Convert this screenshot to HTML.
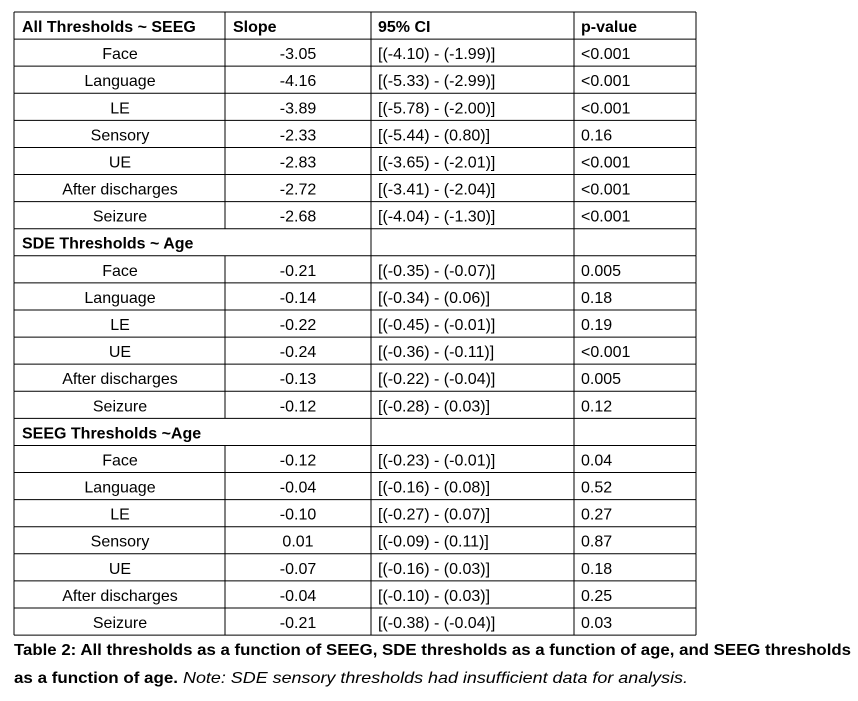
<!DOCTYPE html>
<html><head><style>html,body{margin:0;padding:0;background:#fff;}svg{display:block;}</style></head>
<body>
<svg width="858" height="701" xmlns="http://www.w3.org/2000/svg" font-family="Liberation Sans, sans-serif" font-size="16" fill="#000">
<rect width="858" height="701" fill="#fff"/>
<g id="t"></g>
<script>
<![CDATA[
(function(){
var rows=[
["All Thresholds ~ SEEG","Slope","95% CI","p-value","H"],
["Face","-3.05","[(-4.10) - (-1.99)]","<0.001"],
["Language","-4.16","[(-5.33) - (-2.99)]","<0.001"],
["LE","-3.89","[(-5.78) - (-2.00)]","<0.001"],
["Sensory","-2.33","[(-5.44) - (0.80)]","0.16"],
["UE","-2.83","[(-3.65) - (-2.01)]","<0.001"],
["After discharges","-2.72","[(-3.41) - (-2.04)]","<0.001"],
["Seizure","-2.68","[(-4.04) - (-1.30)]","<0.001"],
["SDE Thresholds ~ Age","","","","S"],
["Face","-0.21","[(-0.35) - (-0.07)]","0.005"],
["Language","-0.14","[(-0.34) - (0.06)]","0.18"],
["LE","-0.22","[(-0.45) - (-0.01)]","0.19"],
["UE","-0.24","[(-0.36) - (-0.11)]","<0.001"],
["After discharges","-0.13","[(-0.22) - (-0.04)]","0.005"],
["Seizure","-0.12","[(-0.28) - (0.03)]","0.12"],
["SEEG Thresholds ~Age","","","","S"],
["Face","-0.12","[(-0.23) - (-0.01)]","0.04"],
["Language","-0.04","[(-0.16) - (0.08)]","0.52"],
["LE","-0.10","[(-0.27) - (0.07)]","0.27"],
["Sensory","0.01","[(-0.09) - (0.11)]","0.87"],
["UE","-0.07","[(-0.16) - (0.03)]","0.18"],
["After discharges","-0.04","[(-0.10) - (0.03)]","0.25"],
["Seizure","-0.21","[(-0.38) - (-0.04)]","0.03"]];
var ns="http://www.w3.org/2000/svg",g=document.getElementById("t");
function el(n,a,txt){var e=document.createElementNS(ns,n);for(var k in a)e.setAttribute(k,a[k]);if(txt!=null)e.textContent=txt;g.appendChild(e);return e;}
var X=[14,225,371,574,696],T0=12,H=27.09;
for(var i=0;i<rows.length;i++){
 var y=T0+i*H,r=rows[i],b=y+20;
 el("line",{x1:14,x2:696,y1:y,y2:y,stroke:"#000","stroke-width":1});
 var t=r[4];
 if(t=="H"){
  el("text",{x:22,y:b,"font-weight":"bold"},r[0]);
  el("text",{x:233,y:b,"font-weight":"bold"},r[1]);
  el("text",{x:378,y:b,"font-weight":"bold"},r[2]);
  el("text",{x:581,y:b,"font-weight":"bold"},r[3]);
 }else if(t=="S"){
  el("text",{x:22,y:b,"font-weight":"bold"},r[0]);
 }else{
  el("text",{x:120,y:b,"text-anchor":"middle"},r[0]);
  el("text",{x:298,y:b,"text-anchor":"middle"},r[1]);
  el("text",{x:378,y:b},r[2]);
  el("text",{x:581,y:b},r[3]);
 }
 for(var j=0;j<5;j++){ if(t=="S"&&j==1)continue;
  el("line",{x1:X[j],x2:X[j],y1:y,y2:y+H,stroke:"#000","stroke-width":1});}
}
var yb=T0+rows.length*H;
el("line",{x1:14,x2:696,y1:yb,y2:yb,stroke:"#000","stroke-width":1});
})();
]]>
</script>
<text x="14" y="655" font-weight="bold" font-size="16" textLength="837" lengthAdjust="spacingAndGlyphs">Table 2: All thresholds as a function of SEEG, SDE thresholds as a function of age, and SEEG thresholds</text>
<text x="14" y="683" font-weight="bold" font-size="16" textLength="164" lengthAdjust="spacingAndGlyphs">as a function of age.</text>
<text x="183" y="683" font-style="italic" font-size="16" textLength="505" lengthAdjust="spacingAndGlyphs">Note: SDE sensory thresholds had insufficient data for analysis.</text>
</svg>
</body></html>
